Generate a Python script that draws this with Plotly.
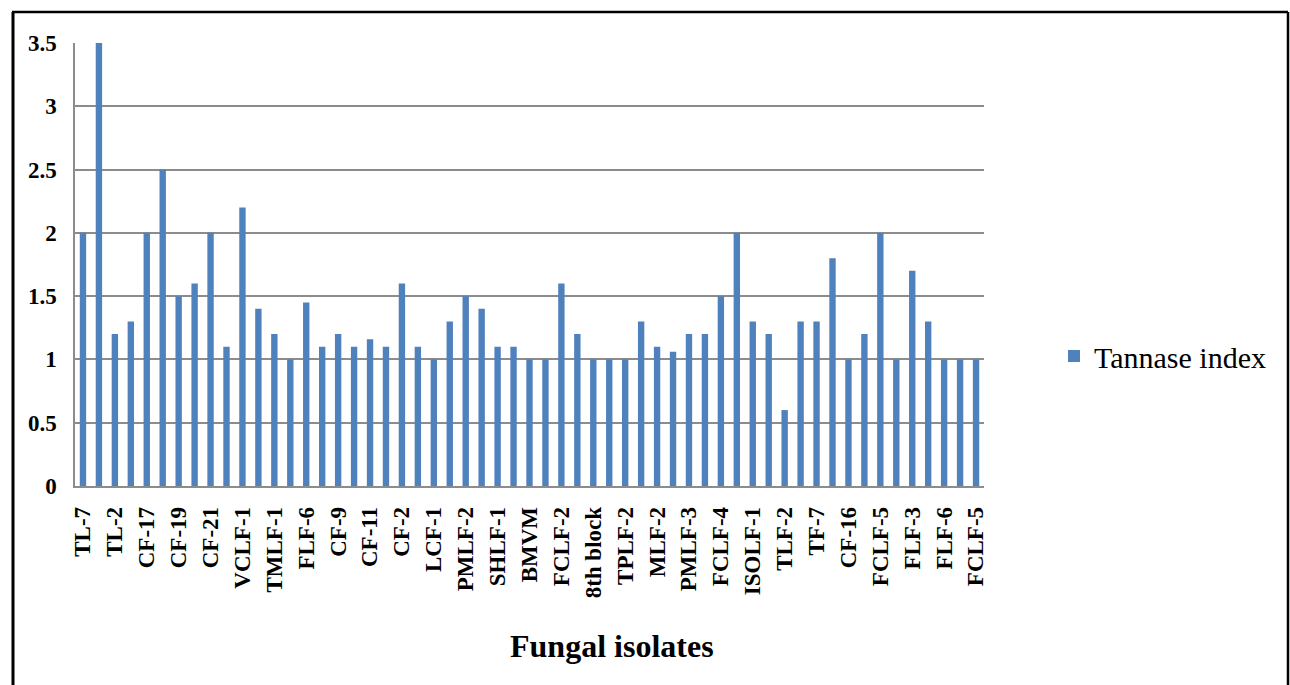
import plotly.graph_objects as go

# Tannase index measured for each fungal isolate (57 isolates, left to right)
tannase_index = [
    2.0, 3.5, 1.2, 1.3, 2.0, 2.5, 1.5, 1.6, 2.0, 1.1,
    2.2, 1.4, 1.2, 1.0, 1.45, 1.1, 1.2, 1.1, 1.16, 1.1,
    1.6, 1.1, 1.0, 1.3, 1.5, 1.4, 1.1, 1.1, 1.0, 1.0,
    1.6, 1.2, 1.0, 1.0, 1.0, 1.3, 1.1, 1.06, 1.2, 1.2,
    1.5, 2.0, 1.3, 1.2, 0.6, 1.3, 1.3, 1.8, 1.0, 1.2,
    2.0, 1.0, 1.7, 1.3, 1.0, 1.0, 1.0,
]

# Isolate names shown on the axis (every second isolate is labelled)
tick_labels = [
    "TL-7", "TL-2", "CF-17", "CF-19", "CF-21", "VCLF-1", "TMLF-1", "FLF-6",
    "CF-9", "CF-11", "CF-2", "LCF-1", "PMLF-2", "SHLF-1", "BMVM", "FCLF-2",
    "8th block", "TPLF-2", "MLF-2", "PMLF-3", "FCLF-4", "ISOLF-1", "TLF-2",
    "TF-7", "CF-16", "FCLF-5", "FLF-3", "FLF-6", "FCLF-5",
]

positions = list(range(1, len(tannase_index) + 1))
tick_positions = positions[::2]

y_ticks = [0, 0.5, 1, 1.5, 2, 2.5, 3, 3.5]
y_tick_text = ["0", "0.5", "1", "1.5", "2", "2.5", "3", "3.5"]

BAR_BLUE = "#4F81BD"
GRID_GREY = "#8C8C8C"
SERIF = "Liberation Serif"

# plot-area geometry in pixels (used to place frame, title and legend)
W, H = 1290, 685
L, R, T, B = 75, 306, 43, 199
pw, ph = W - L - R, H - T - B


def px_to_paper_x(px):
    return (px - L) / pw


def px_to_paper_y(py):
    return (H - B - py) / ph


fig = go.Figure()
fig.add_trace(go.Bar(
    x=positions,
    y=tannase_index,
    name="Tannase index",
    width=0.4,
    marker=dict(color=BAR_BLUE, line=dict(width=0)),
    showlegend=True,
))

fig.update_layout(
    width=W,
    height=H,
    margin=dict(l=L, r=R, t=T, b=B, autoexpand=False),
    paper_bgcolor="white",
    plot_bgcolor="white",
    font=dict(family=SERIF, color="black"),
    showlegend=True,
    legend=dict(
        x=px_to_paper_x(1054),
        y=px_to_paper_y(356),
        xanchor="left",
        yanchor="middle",
        font=dict(family=SERIF, size=30, color="black"),
        bgcolor="rgba(0,0,0,0)",
    ),
    xaxis=dict(
        range=[0.5, len(tannase_index) + 0.5],
        tickmode="array",
        tickvals=tick_positions,
        ticktext=tick_labels,
        tickangle=-90,
        tickfont=dict(family=SERIF, size=23, color="black", weight="bold"),
        showline=True,
        linecolor=GRID_GREY,
        linewidth=1.5,
        showgrid=False,
        zeroline=False,
        ticks="",
        ticklabelstandoff=10,
        fixedrange=True,
    ),
    yaxis=dict(
        range=[0, 3.5],
        tickmode="array",
        tickvals=y_ticks,
        ticktext=y_tick_text,
        tickfont=dict(family=SERIF, size=23, color="black", weight="bold"),
        showline=True,
        linecolor=GRID_GREY,
        linewidth=1.5,
        showgrid=True,
        gridcolor=GRID_GREY,
        gridwidth=1.5,
        zeroline=False,
        ticks="",
        ticklabelstandoff=12,
        fixedrange=True,
    ),
    annotations=[
        dict(
            text="<b>Fungal isolates</b>",
            xref="paper", yref="paper",
            x=px_to_paper_x(612), y=px_to_paper_y(646),
            xanchor="center", yanchor="middle",
            showarrow=False,
            font=dict(family=SERIF, size=32, color="black"),
        )
    ],
    shapes=[
        # outer frame around the whole chart
        dict(
            type="line", xref="paper", yref="paper",
            x0=px_to_paper_x(13), x1=px_to_paper_x(13),
            y0=px_to_paper_y(12), y1=px_to_paper_y(700),
            line=dict(color="black", width=3),
        ),
        dict(
            type="line", xref="paper", yref="paper",
            x0=px_to_paper_x(12), x1=px_to_paper_x(1288),
            y0=px_to_paper_y(12), y1=px_to_paper_y(12),
            line=dict(color="black", width=2.5),
        ),
        dict(
            type="line", xref="paper", yref="paper",
            x0=px_to_paper_x(1288), x1=px_to_paper_x(1288),
            y0=px_to_paper_y(12), y1=px_to_paper_y(700),
            line=dict(color="black", width=2.5),
        ),
    ],
)

fig.write_html("out.html")
